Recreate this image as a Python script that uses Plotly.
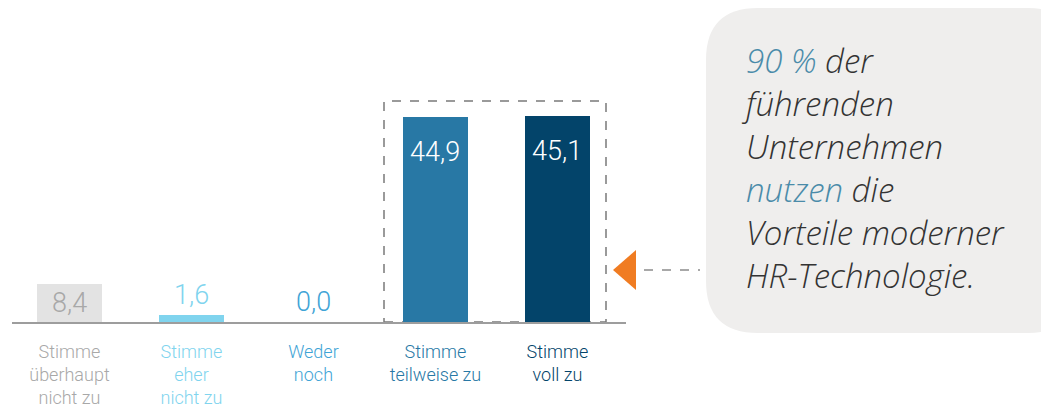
import plotly.graph_objects as go

categories = [
    "Stimme<br>überhaupt<br>nicht zu",
    "Stimme<br>eher<br>nicht zu",
    "Weder<br>noch",
    "Stimme<br>teilweise zu",
    "Stimme<br>voll zu",
]
values = [8.4, 1.6, 0.0, 44.9, 45.1]
value_labels = ["8,4", "1,6", "0,0", "44,9", "45,1"]

BAR_COLORS = ["#e3e3e3", "#80d4ee", "#3fa4d6", "#2878a5", "#03446a"]
TEXT_COLORS = ["#a8a8a8", "#80d4ee", "#3fa4d6", "#2878a5", "#03446a"]
LABEL_COLORS = ["#a8a8a8", "#80d4ee", "#3fa4d6", "#ffffff", "#ffffff"]

W, H = 1041, 415
L, R, T, B = 12, 0, 0, 93
PW, PH = W - L - R, H - T - B


def px(x):
    return (x - L) / PW


def py(y):
    return (H - B - y) / PH


fig = go.Figure()
fig.add_trace(go.Bar(
    x=list(range(len(values))), y=values,
    marker=dict(color=BAR_COLORS, line=dict(width=0)),
    width=0.533, hoverinfo="skip",
))

# value labels: small bars get label centred in / above bar, big bars inside at top
for i, (v, lab) in enumerate(zip(values, value_labels)):
    if v > 20:
        y, yanchor, shift = v, "top", -17
    elif v > 5:
        y, yanchor, shift = v / 2, "middle", 0
    else:
        y, yanchor, shift = v, "bottom", 2
    fig.add_annotation(x=i, y=y, text=lab, showarrow=False, yanchor=yanchor, yshift=shift,
                       font=dict(family="Roboto", size=27, weight=300, color=LABEL_COLORS[i]))

ticktext = [f"<span style='color:{c}'>{t}</span>" for t, c in zip(categories, TEXT_COLORS)]

fig.update_xaxes(
    domain=[0, px(626)], range=[-0.471, 4.562],
    tickvals=list(range(len(values))), ticktext=ticktext,
    tickfont=dict(family="Roboto", size=18, weight=300),
    showline=True, linecolor="#9d9d9d", linewidth=2, showgrid=False, zeroline=False,
    ticks="", ticklabelstandoff=12,
)
fig.update_yaxes(range=[0, 70.5], visible=False)

# dashed highlight box around the two agree bars
fig.add_shape(type="rect", xref="paper", yref="paper",
              x0=px(384), x1=px(606), y0=py(322), y1=py(101),
              line=dict(color="#7a7a7a", width=1.5, dash="dash"), layer="below")

# orange arrow + dashed connector
fig.add_shape(type="path", xref="paper", yref="paper",
              path=f"M {px(613)},{py(270)} L {px(636)},{py(250)} L {px(636)},{py(290)} Z",
              fillcolor="#f07c22", line=dict(width=0))
fig.add_shape(type="line", xref="paper", yref="paper",
              x0=px(644), x1=px(700), y0=py(270), y1=py(270),
              line=dict(color="#8c8c8c", width=1.5, dash="dash"))

# rounded callout box
x0, x1, y0, y1, r = 706, 1080, 8, 333, 52
path = (f"M {px(x0 + r)},{py(y0)} L {px(x1 - r)},{py(y0)} "
        f"Q {px(x1)},{py(y0)} {px(x1)},{py(y0 + r)} L {px(x1)},{py(y1 - r)} "
        f"Q {px(x1)},{py(y1)} {px(x1 - r)},{py(y1)} L {px(x0 + r)},{py(y1)} "
        f"Q {px(x0)},{py(y1)} {px(x0)},{py(y1 - r)} L {px(x0)},{py(y0 + r)} "
        f"Q {px(x0)},{py(y0)} {px(x0 + r)},{py(y0)} Z")
fig.add_shape(type="path", xref="paper", yref="paper", path=path,
              fillcolor="#efeeed", line=dict(width=0), layer="below")

blue = "#4a8ba9"
callout = (f"<span style='color:{blue}'>90 %</span> der<br>führenden<br>Unternehmen<br>"
           f"<span style='color:{blue}'>nutzen</span> die<br>Vorteile moderner<br>HR-Technologie.")
fig.add_annotation(xref="paper", yref="paper", x=px(739), y=py(168), xanchor="left", yanchor="middle",
                   text=callout, showarrow=False, align="left",
                   font=dict(family="Open Sans", size=33, style="italic", weight=300, color="#333333"))

fig.update_layout(
    width=W, height=H, margin=dict(l=L, r=R, t=T, b=B),
    paper_bgcolor="white", plot_bgcolor="white",
    showlegend=False, bargap=0,
)

fig.write_html("out.html", config={"displayModeBar": False},
               post_script="document.body.style.margin='0px';")
